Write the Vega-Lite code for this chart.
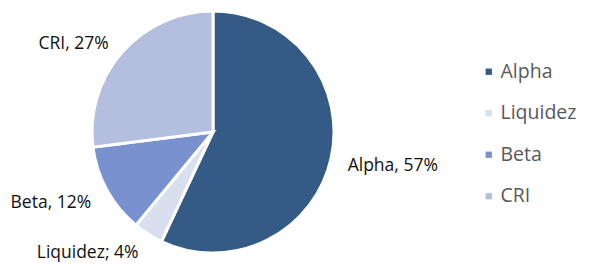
{
  "$schema": "https://vega.github.io/schema/vega-lite/v6.json",
  "width": 426,
  "height": 264,
  "padding": {"left": 0, "top": 0, "right": 165, "bottom": 4},
  "autosize": {"type": "none"},
  "background": "white",
  "config": {"view": {"stroke": null}, "font": "Open Sans"},
  "data": {"values": [
    {"category": "Alpha", "share": 57, "ord": 1, "label": "Alpha, 57%"},
    {"category": "Liquidez", "share": 4, "ord": 2, "label": "Liquidez; 4%"},
    {"category": "Beta", "share": 12, "ord": 3, "label": "Beta, 12%"},
    {"category": "CRI", "share": 27, "ord": 4, "label": "CRI, 27%"}
  ]},
  "encoding": {
    "theta": {"field": "share", "type": "quantitative", "stack": true},
    "order": {"field": "ord", "type": "quantitative"}
  },
  "layer": [
    {
      "mark": {"type": "arc", "outerRadius": 121, "stroke": "white", "strokeWidth": 3},
      "encoding": {
        "color": {
          "field": "category", "type": "nominal",
          "scale": {"domain": ["Alpha", "Liquidez", "Beta", "CRI"], "range": ["#345A86", "#D8DFEF", "#7991CF", "#B4BFE0"]},
          "legend": {
            "title": null, "orient": "none", "legendX": 479, "legendY": 62,
            "symbolType": "square", "symbolSize": 40, "symbolStrokeWidth": 0,
            "labelFontSize": 19.5, "labelColor": "#595959", "labelFont": "Open Sans",
            "rowPadding": 20.5, "labelOffset": 2
          }
        }
      }
    },
    {
      "mark": {"type": "text", "radius": 138, "align": "left", "baseline": "middle", "dy": 4, "fontSize": 17.5, "color": "#111111"},
      "encoding": {
        "text": {"condition": {"test": "datum.category === 'Alpha'", "field": "label"}, "value": ""}
      }
    },
    {
      "mark": {"type": "text", "radius": 139, "align": "right", "baseline": "middle", "dy": 4, "fontSize": 17.5, "color": "#111111"},
      "encoding": {
        "text": {"condition": {"test": "datum.category !== 'Alpha'", "field": "label"}, "value": ""}
      }
    }
  ]
}
